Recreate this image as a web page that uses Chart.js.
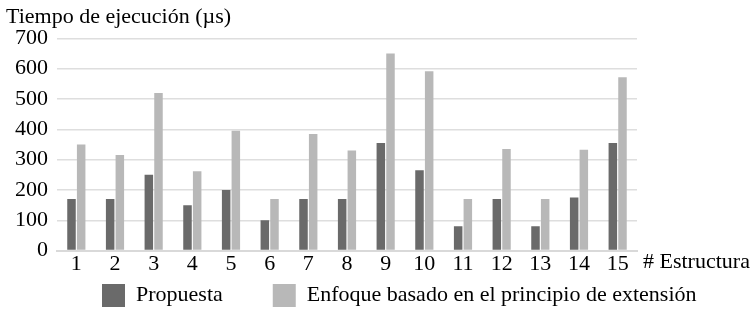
<!DOCTYPE html>
<html>
<head>
<meta charset="utf-8">
<script src="https://cdn.jsdelivr.net/npm/chart.js@4"></script>
<style>
  html, body { margin: 0; padding: 0; background: #fff; }
  canvas { display: block; }
</style>
</head>
<body>
<canvas id="chart" width="753" height="310"></canvas>
<script>
const categories = ["1", "2", "3", "4", "5", "6", "7", "8", "9", "10", "11", "12", "13", "14", "15"];
const propuesta = [170, 170, 250, 150, 200, 100, 170, 170, 355, 265, 80, 170, 80, 175, 355];
const enfoque = [350, 315, 520, 262, 395, 170, 385, 330, 650, 592, 170, 335, 170, 333, 572];
const yMin = 0;
const yMax = 700;
const yStep = 100;

const FONT = "'Liberation Serif', 'Times New Roman', serif";

// moves the legend under the bars and draws the "# Estructura" label
const extras = {
  id: "extras",
  afterLayout(chart) {
    const lg = chart.legend;
    lg.left = 52;
    lg.right = 900;
    lg.top = 234;
  },
  afterDraw(chart) {
    const ctx = chart.ctx;
    const area = chart.chartArea;
    ctx.save();
    ctx.font = "22px " + FONT;
    ctx.fillStyle = "#000";
    ctx.textAlign = "left";
    ctx.textBaseline = "middle";
    ctx.fillText("# Estructura", area.right + 6, area.bottom + 12);
    ctx.restore();
  }
};

new Chart(document.getElementById("chart"), {
  type: "bar",
  data: {
    labels: categories,
    datasets: [
      {
        label: "Propuesta",
        data: propuesta,
        backgroundColor: "#6a6a6a",
        categoryPercentage: 0.5,
        barPercentage: 0.88
      },
      {
        label: "Enfoque basado en el principio de extensión",
        data: enfoque,
        backgroundColor: "#b8b8b8",
        categoryPercentage: 0.5,
        barPercentage: 0.88
      }
    ]
  },
  options: {
    responsive: false,
    animation: false,
    layout: { padding: { left: 6, right: 116, top: 0, bottom: 0 } },
    plugins: {
      title: {
        display: true,
        text: "Tiempo de ejecución (µs)",
        align: "start",
        color: "#000",
        font: { family: FONT, size: 22, weight: "normal" },
        padding: { top: 4, bottom: 8 }
      },
      legend: {
        position: "bottom",
        align: "start",
        maxHeight: 33,
        labels: {
          color: "#000",
          font: { family: FONT, size: 22 },
          boxWidth: 23,
          boxHeight: 23,
          padding: 50
        }
      },
      tooltip: { enabled: false }
    },
    scales: {
      x: {
        grid: { display: false, drawTicks: false },
        border: { display: true, color: "#d9d9d9", width: 2 },
        ticks: {
          color: "#000",
          font: { family: FONT, size: 22 },
          padding: 0,
          maxRotation: 0,
          autoSkip: false
        }
      },
      y: {
        min: yMin,
        max: yMax,
        afterFit(scale) { scale.width = 51; },
        grid: { color: "#dedede", lineWidth: 1.5, drawTicks: false },
        border: { display: false },
        ticks: {
          stepSize: yStep,
          color: "#000",
          font: { family: FONT, size: 22 },
          padding: 9
        }
      }
    }
  },
  plugins: [extras]
});
</script>
</body>
</html>
